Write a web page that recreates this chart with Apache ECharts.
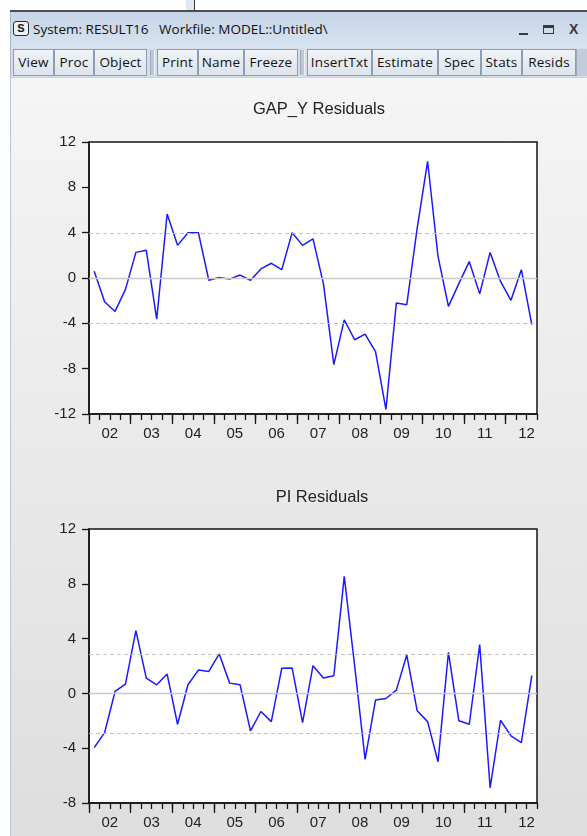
<!DOCTYPE html>
<html>
<head>
<meta charset="utf-8">
<title>System: RESULT16</title>
<script src="https://cdn.jsdelivr.net/npm/echarts@6/dist/echarts.min.js"></script>
<style>
  html, body { margin: 0; padding: 0; width: 587px; height: 836px; overflow: hidden; background: #fff; }
  .abs { position: absolute; }
  #caretBox { left: 186px; top: 0; width: 8px; height: 10px; background: #dfe7f2; }
  #caretLine { left: 194px; top: 0; width: 1px; height: 10px; background: #333; }
  #frameTop { left: 10px; top: 10px; width: 577px; height: 2px; background: #4e4e4e; }
  #titlebar { left: 10px; top: 12px; width: 577px; height: 36px; background: linear-gradient(#c5d4e7, #d7e3f0); border-left: 1px solid #a9bbd1; box-sizing: border-box; }
  #toolbar { left: 10px; top: 48px; width: 577px; height: 29px; background: #d4deea; border-left: 1px solid #a9bbd1; box-sizing: border-box; }
  #content { left: 10px; top: 77px; width: 577px; height: 759px; background: linear-gradient(#f5f5f5, #dedede); border-left: 1px solid #b8c8dc; border-top: 1px solid #c9d3df; box-sizing: border-box; }
  #sIcon { left: 13px; top: 21px; width: 16px; height: 15px; box-sizing: border-box; border: 1.5px solid #2b2b2b; border-radius: 3px; background: #eef2f7; font: bold 11px 'Liberation Sans', Arial, sans-serif; color: #111; text-align: center; line-height: 12px; }
  #winTitle { left: 33px; top: 20px; font: 13.5px 'Open Sans', sans-serif; color: #111; white-space: pre; }
  #minBtn { left: 519px; top: 33px; width: 9px; height: 2px; background: #3a3a3a; }
  #maxBtn { left: 543px; top: 25px; width: 11px; height: 9px; box-sizing: border-box; border: 1.5px solid #3a3a3a; border-top-width: 3px; }
  #closeBtn { left: 569px; top: 21px; font: bold 14px 'Liberation Sans', Arial, sans-serif; color: #3a3a3a; }
  .btn { position: absolute; top: 49px; height: 27px; box-sizing: border-box; border: 1px solid #8f9db2; background: linear-gradient(#eff3f7, #dde4ec); font: 13.5px 'Open Sans', sans-serif; letter-spacing: 0.2px; color: #111; text-align: center; line-height: 25px; }
  .sep { position: absolute; top: 50px; height: 25px; width: 5px; background: #bcc8d7; border-left: 1px solid #9aa8bb; border-right: 1px solid #eef2f6; box-sizing: border-box; }
  #toolEnd { left: 576px; top: 49px; width: 11px; height: 27px; background: #c3ccd9; border-left: 1px solid #9aa8bb; box-sizing: border-box; }
  #chart { position: absolute; left: 0; top: 78px; width: 587px; height: 758px; }
</style>
</head>
<body>
<div class="abs" id="caretBox"></div>
<div class="abs" id="caretLine"></div>
<div class="abs" id="frameTop"></div>
<div class="abs" id="titlebar"></div>
<div class="abs" id="toolbar"></div>
<div class="abs" id="content"></div>
<div class="abs" id="sIcon">S</div>
<div class="abs" id="winTitle">System: RESULT16   Workfile: MODEL::Untitled\</div>
<div class="abs" id="minBtn"></div>
<div class="abs" id="maxBtn"></div>
<div class="abs" id="closeBtn">X</div>

<div class="btn" style="left:13px;width:41px;">View</div>
<div class="btn" style="left:54px;width:40px;">Proc</div>
<div class="btn" style="left:94px;width:53px;">Object</div>
<div class="sep" style="left:150px;"></div>
<div class="btn" style="left:157px;width:41px;">Print</div>
<div class="btn" style="left:198px;width:46px;">Name</div>
<div class="btn" style="left:244px;width:54px;">Freeze</div>
<div class="sep" style="left:300px;"></div>
<div class="btn" style="left:307px;width:65px;">InsertTxt</div>
<div class="btn" style="left:372px;width:66px;">Estimate</div>
<div class="btn" style="left:438px;width:43px;">Spec</div>
<div class="btn" style="left:481px;width:41px;">Stats</div>
<div class="btn" style="left:522px;width:54px;">Resids</div>
<div class="abs" id="toolEnd"></div>

<div id="chart"></div>

<script>
// Quarterly observations, 2002Q1 .. 2012Q3
const quarters = [
  '2002Q1','2002Q2','2002Q3','2002Q4','2003Q1','2003Q2','2003Q3','2003Q4',
  '2004Q1','2004Q2','2004Q3','2004Q4','2005Q1','2005Q2','2005Q3','2005Q4',
  '2006Q1','2006Q2','2006Q3','2006Q4','2007Q1','2007Q2','2007Q3','2007Q4',
  '2008Q1','2008Q2','2008Q3','2008Q4','2009Q1','2009Q2','2009Q3','2009Q4',
  '2010Q1','2010Q2','2010Q3','2010Q4','2011Q1','2011Q2','2011Q3','2011Q4',
  '2012Q1','2012Q2','2012Q3'
];

// Year labels shown under each block of four quarters
const yearLabels = ['02','03','04','05','06','07','08','09','10','11','12'];

// Residuals of the GAP_Y equation
const gapYResid = [
  0.6, -2.1, -2.95, -1.0, 2.26, 2.44, -3.62, 5.65,
  2.88, 4.0, 4.0, -0.2, 0.05, -0.1, 0.26, -0.2,
  0.8, 1.3, 0.73, 4.0, 2.88, 3.45, -0.5, -7.65,
  -3.7, -5.45, -4.95, -6.5, -11.6, -2.2, -2.36, 4.4,
  10.3, 1.9, -2.5, -0.5, 1.45, -1.4, 2.26, -0.3,
  -1.97, 0.73, -4.12
];

// Residuals of the PI equation
const piResid = [
  -3.96, -2.86, 0.14, 0.68, 4.58, 1.12, 0.63, 1.41,
  -2.25, 0.63, 1.7, 1.6, 2.88, 0.75, 0.63, -2.74,
  -1.32, -2.06, 1.83, 1.85, -2.13, 2.02, 1.12, 1.29,
  8.54, 2.0, -4.82, -0.49, -0.37, 0.24, 2.8, -1.27,
  -2.06, -4.99, 3.0, -2.0, -2.25, 3.56, -6.89, -1.96,
  -3.1, -3.6, 1.29
];

// Standard-error bands drawn as dashed reference lines
const gapYBand = 3.98;
const piBand = 2.88;

// Vertical axis ranges
const gapYRange = [-12, 12];
const piRange = [-8, 12];

const nObs = quarters.length;
const quarterEdges = [];
for (let k = 0; k <= nObs; k++) quarterEdges.push(k);
const yearEdges = [];
const yearMids = [];
for (let k = 0; k < yearLabels.length; k++) {
  yearEdges.push(k * 4);
  yearMids.push(k * 4 + 2);
}

const FONT = "'Liberation Sans', Arial, sans-serif";
const INK = '#151515';
const LINE_BLUE = '#1a1aff';

const panels = [
  { title: 'GAP_Y Residuals', values: gapYResid, band: gapYBand, range: gapYRange,
    gridTop: 64, gridHeight: 272, titleX: 319, titleTop: 23 },
  { title: 'PI Residuals', values: piResid, band: piBand, range: piRange,
    gridTop: 451, gridHeight: 274, titleX: 322, titleTop: 411 }
];

const option = {
  animation: false,
  backgroundColor: 'transparent',
  title: [],
  grid: [],
  xAxis: [],
  yAxis: [],
  series: []
};

panels.forEach((p, gi) => {
  option.title.push({
    text: p.title,
    left: p.titleX,
    top: p.titleTop,
    textAlign: 'center',
    padding: 0,
    textStyle: { fontFamily: FONT, fontSize: 16.5, fontWeight: 'normal', color: '#222' }
  });

  option.grid.push({
    left: 89, top: p.gridTop, width: 448, height: p.gridHeight,
    show: true, backgroundColor: '#ffffff',
    borderColor: INK, borderWidth: 1.5
  });

  const xBase = option.xAxis.length;
  // data axis: one band per quarter
  option.xAxis.push({
    type: 'category', gridIndex: gi, data: quarters, boundaryGap: true,
    position: 'bottom', show: false
  });
  // quarter ticks and year labels
  option.xAxis.push({
    type: 'value', gridIndex: gi, min: 0, max: nObs, position: 'bottom',
    axisLine: { show: true, onZero: false, lineStyle: { color: INK, width: 1.5 } },
    axisTick: { show: true, inside: false, length: 6, customValues: quarterEdges,
                lineStyle: { color: INK, width: 1.3 } },
    axisLabel: { show: true, customValues: yearMids, margin: 12,
                 fontFamily: FONT, fontSize: 15, color: '#222',
                 formatter: v => yearLabels[Math.round((v - 2) / 4)] },
    splitLine: { show: false }
  });
  // longer ticks at each year boundary
  option.xAxis.push({
    type: 'value', gridIndex: gi, min: 0, max: nObs, position: 'bottom',
    axisLine: { show: false, onZero: false },
    axisTick: { show: true, inside: false, length: 10, customValues: yearEdges,
                lineStyle: { color: INK, width: 1.3 } },
    axisLabel: { show: false, customValues: yearEdges },
    splitLine: { show: false }
  });

  option.yAxis.push({
    type: 'value', gridIndex: gi, min: p.range[0], max: p.range[1], interval: 4,
    axisLine: { show: true, onZero: false, lineStyle: { color: INK, width: 1.5 } },
    axisTick: { show: true, inside: false, length: 7, lineStyle: { color: INK, width: 1.3 } },
    axisLabel: { margin: 13, fontFamily: FONT, fontSize: 15, color: '#222' },
    splitLine: { show: false }
  });

  option.series.push({
    type: 'line',
    xAxisIndex: xBase,
    yAxisIndex: gi,
    data: p.values,
    symbol: 'none',
    showSymbol: false,
    lineStyle: { color: LINE_BLUE, width: 1.5 },
    z: 3,
    markLine: {
      silent: true,
      symbol: ['none', 'none'],
      label: { show: false },
      animation: false,
      data: [
        { yAxis: 0, lineStyle: { type: 'solid', color: '#c9c9c9', width: 1.4 } },
        { yAxis: p.band, lineStyle: { type: [4, 3], color: '#c2c2c2', width: 1 } },
        { yAxis: -p.band, lineStyle: { type: [4, 3], color: '#c2c2c2', width: 1 } }
      ]
    }
  });
});

const chart = echarts.init(document.getElementById('chart'), null, { renderer: 'canvas' });
chart.setOption(option);
</script>
</body>
</html>
